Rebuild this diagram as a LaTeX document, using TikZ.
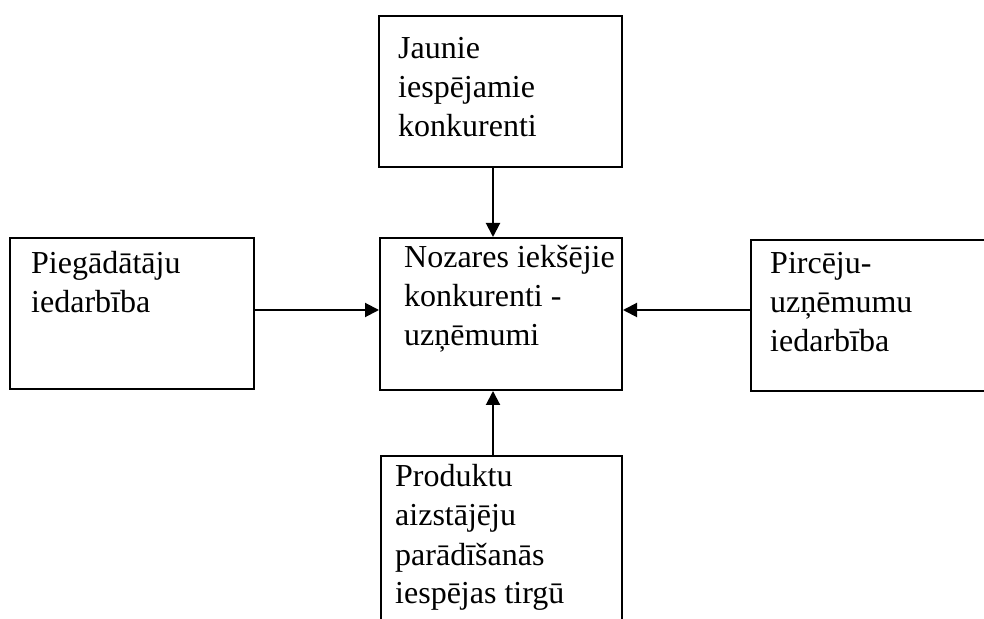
\documentclass[tikz,border=0pt]{standalone}
\usepackage{fontspec}
\setmainfont{Liberation Serif}
\usetikzlibrary{arrows.meta}

\begin{document}
\begin{tikzpicture}[x=1pt,y=1pt,
    box/.style={draw, line width=2pt, rectangle, inner sep=0pt},
    lbl/.style={anchor=base west, inner sep=0pt,
      font=\fontsize{32}{39}\selectfont},
    arr/.style={line width=2pt, -{Triangle[length=14pt,width=14pt]}}]
  \useasboundingbox (0,0) rectangle (984,618);
  \clip (0,0) rectangle (984,618);

  % boxes
  \node[box, minimum width=243pt, minimum height=151pt] (top)    at (500.5,526.5) {};
  \node[box, minimum width=242pt, minimum height=152pt] (center) at (501,304) {};
  \node[box, minimum width=244pt, minimum height=151pt] (left)   at (132,304.5) {};
  \node[box, minimum width=249pt, minimum height=151pt] (right)  at (875.5,302.5) {};
  \node[box, minimum width=241pt, minimum height=184pt] (bottom) at (501.5,70) {};

  % texts
  \node[lbl] (ttop) at ([shift={(20,-44)}]top.north west)
    {\begin{tabular}[t]{@{}l@{}}Jaunie\\iespējamie\\konkurenti\end{tabular}};
  \node[lbl] (tcenter) at ([shift={(25,-31)}]center.north west)
    {\begin{tabular}[t]{@{}l@{}}Nozares iekšējie\\konkurenti -\\uzņēmumi\end{tabular}};
  \node[lbl] (tleft) at ([shift={(22,-37)}]left.north west)
    {\begin{tabular}[t]{@{}l@{}}Piegādātāju\\iedarbība\end{tabular}};
  \node[lbl] (tright) at ([shift={(20,-35)}]right.north west)
    {\begin{tabular}[t]{@{}l@{}}Pircēju-\\uzņēmumu\\iedarbība\end{tabular}};
  \node[lbl] (tbottom) at ([shift={(15,-32)}]bottom.north west)
    {\begin{tabular}[t]{@{}l@{}}Produktu\\aizstājēju\\parādīšanās\\iespējas tirgū\end{tabular}};

  % connector guides
  \coordinate (vcol) at (493,0);
  \coordinate (hrow) at (0,308);

  % connectors
  \draw[arr] (top.south -| vcol) -- (center.north -| vcol);
  \draw[arr] (bottom.north -| vcol) -- (center.south -| vcol);
  \draw[arr] (left.east |- hrow) -- (center.west |- hrow);
  \draw[arr] (right.west |- hrow) -- (center.east |- hrow);
\end{tikzpicture}
\end{document}
